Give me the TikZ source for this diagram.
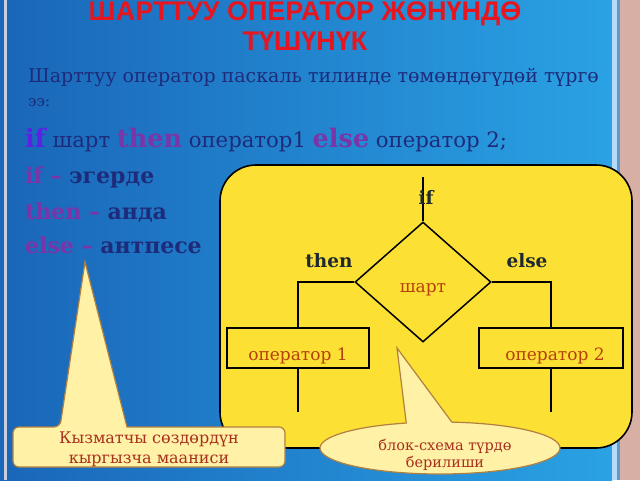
\documentclass[tikz,border=0pt]{standalone}
\usepackage{fontspec}
\setmainfont{DejaVu Serif}
\newfontfamily\titlefont{Liberation Sans}
\usetikzlibrary{shapes.geometric,shapes.callouts}
\definecolor{bgdark}{HTML}{1A66B8}
\definecolor{bglight}{HTML}{2AA2E4}
\definecolor{navy}{HTML}{1E2B7A}
\definecolor{ifblue}{HTML}{5B22E6}
\definecolor{kwpurple}{HTML}{7A35A8}
\definecolor{titlered}{HTML}{E5161F}
\definecolor{lbldark}{HTML}{1E2A30}
\definecolor{optext}{HTML}{B5400E}
\definecolor{calltext}{HTML}{A8301E}
\definecolor{panel}{HTML}{FCE034}
\definecolor{callfill}{HTML}{FFF1A6}
\definecolor{callborder}{HTML}{B08040}
\definecolor{pinkstrip}{HTML}{D7AFA5}
\definecolor{whitestrip}{HTML}{B8DAF5}
\definecolor{midstrip}{HTML}{5C9BD0}
\definecolor{greystrip}{HTML}{C9CCDA}
\begin{document}
\begin{tikzpicture}[x=1pt,y=-1pt,
  txt/.style={inner sep=0pt,anchor=base west},
  ctxt/.style={inner sep=0pt,anchor=base},
  opbox/.style={draw=black,line width=1.5pt,minimum height=40pt,inner sep=0pt,
    text=optext,font=\fontsize{17}{20}\selectfont},
  flow/.style={line width=1.5pt,draw=black},
  lbl/.style={inner sep=0pt,anchor=base,text=lbldark,font=\fontsize{18.5}{20}\selectfont\bfseries}]
\useasboundingbox (0,0) rectangle (640,480);
% background
\shade[left color=bgdark,right color=bglight] (0,0) rectangle (612,480);
\fill[bgdark] (0,0) rectangle (4,480);
\fill[greystrip] (4,0) rectangle (7,480);
\fill[whitestrip] (612,0) rectangle (617,480);
\fill[midstrip] (617,0) rectangle (620,480);
\fill[pinkstrip] (620,0) rectangle (640,480);
% title
\node[ctxt,text=titlered,font=\titlefont\fontsize{27}{30}\selectfont\bfseries] (title1) at (305,20) {ШАРТТУУ ОПЕРАТОР ЖӨНҮНДӨ};
\node[ctxt,text=titlered,font=\titlefont\fontsize{27}{30}\selectfont\bfseries] (title2) at (305,50) {ТҮШҮНҮК};
% text lines
\node[txt,text=navy,font=\fontsize{19}{22}\selectfont] (l1) at (28,82) {Шарттуу оператор паскаль тилинде төмөндөгүдөй түргө};
\node[txt,text=navy,font=\fontsize{15}{18}\selectfont] (l2) at (28,106) {ээ:};
\node[txt,text=navy,font=\fontsize{21.2}{24}\selectfont] (l3) at (25,147)
  {\textcolor{ifblue}{\fontsize{25.5}{26}\selectfont\bfseries if} шарт \textcolor{kwpurple}{\fontsize{25.5}{26}\selectfont\bfseries then} оператор1 \textcolor{kwpurple}{\fontsize{25.5}{26}\selectfont\bfseries else} оператор 2;};
\node[txt,text=navy,font=\fontsize{22}{24}\selectfont\bfseries] (l4) at (25,183) {\textcolor{kwpurple}{if –} эгерде};
\node[txt,text=navy,font=\fontsize{22}{24}\selectfont\bfseries] (l5) at (25,219) {\textcolor{kwpurple}{then –} анда};
\node[txt,text=navy,font=\fontsize{22}{24}\selectfont\bfseries] (l6) at (25,253) {\textcolor{kwpurple}{else –} антпесе};
% yellow panel
\draw[line width=1.6pt,fill=panel,rounded corners=36pt] (220,165) rectangle (632,448);
% flowchart
\coordinate (top) at (423,177);
\node[diamond,draw=black,line width=1.5pt,minimum width=136pt,minimum height=120pt,inner sep=0pt,
  text=optext,font=\fontsize{17}{20}\selectfont] (d) at (423,282) {\raisebox{-10pt}[0pt][0pt]{шарт}};
\node[opbox,minimum width=142pt] (o1) at (298,348) {\raisebox{-12pt}[0pt][0pt]{оператор 1}};
\node[opbox,minimum width=144pt] (o2) at (551,348) {\hspace{8pt}\raisebox{-12pt}[0pt][0pt]{оператор 2}};
\coordinate (e1) at (298,412);
\coordinate (e2) at (551,412);
\draw[flow] (top) -- (d.north);
\draw[flow] (d.west) -| (o1.north);
\draw[flow] (d.east) -| (o2.north);
\draw[flow] (o1.south) -- (e1);
\draw[flow] (o2.south) -- (e2);
\node[lbl] (lif) at (426,204) {if};
\node[lbl] (lthen) at (329,267) {then};
\node[lbl] (lelse) at (527,267) {else};
% left callout
\draw[draw=callborder,line width=1.2pt,fill=callfill,rounded corners=6pt]
  (13,447) |- (60,427) [sharp corners] -- (85,262) -- (127,427) [rounded corners=6pt] -| (285,467) -| (13,447);
\node[ctxt,text=calltext,font=\fontsize{16}{18}\selectfont] (c1a) at (149,443) {Кызматчы сөздөрдүн};
\node[ctxt,text=calltext,font=\fontsize{16}{18}\selectfont] (c1b) at (149,463) {кыргызча мааниси};
% right callout
\node[ellipse callout,draw=callborder,line width=1.2pt,fill=callfill,minimum width=240pt,minimum height=52pt,
  callout absolute pointer={(397,348)},callout pointer arc=22] (c2) at (440,448) {};
\node[ctxt,text=calltext,font=\fontsize{14.5}{17}\selectfont] (c2a) at (445,450) {блок-схема түрдө};
\node[ctxt,text=calltext,font=\fontsize{14.5}{17}\selectfont] (c2b) at (445,467) {берилиши};
\end{tikzpicture}
\end{document}
